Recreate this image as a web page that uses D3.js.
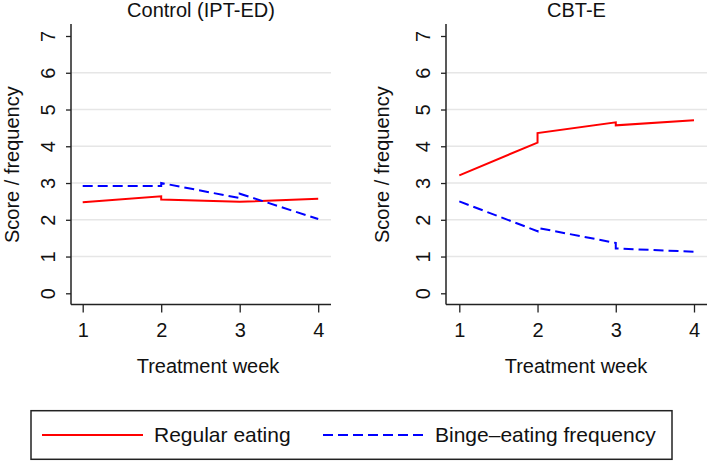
<!DOCTYPE html>
<html>
<head>
<meta charset="utf-8">
<script src="https://cdn.jsdelivr.net/npm/d3@7"></script>
<style>
  html, body { margin: 0; padding: 0; background: #fff; }
  svg { display: block; font-family: "Liberation Sans", Arial, sans-serif; }
</style>
</head>
<body>
<svg id="chart" width="709" height="462"></svg>
<script>
// ---- data ----
const panelTitles = ["Control (IPT-ED)", "CBT-E"];
const weeks = [1, 2, 2, 3, 3, 4];            // x positions (jumps at weeks 2 and 3)
const ctrlRegular = [2.48, 2.64, 2.55, 2.49, 2.49, 2.57];
const ctrlBinge   = [2.92, 2.92, 3.00, 2.59, 2.71, 2.02];
const cbtRegular  = [3.21, 4.10, 4.36, 4.65, 4.57, 4.71];
const cbtBinge    = [2.50, 1.69, 1.78, 1.37, 1.22, 1.13];
const xTicks = [1, 2, 3, 4];
const yTicks = [0, 1, 2, 3, 4, 5, 6, 7];
const gridTicks = [1, 2, 3, 4, 5, 6];
const seriesNames = ["Regular eating", "Binge\u2013eating frequency"];
const xTitle = "Treatment week";
const yTitle = "Score / frequency";

const svg = d3.select("#chart");
const RED = "#ff0000", BLUE = "#0000ff", AXIS = "#222";

const panels = [
  { title: panelTitles[0], axisX: 71, xr: [82.7, 318.2], right: 331, regular: ctrlRegular, binge: ctrlBinge, ytitleX: 19, xtitleX: 208 },
  { title: panelTitles[1], axisX: 446, xr: [459.3, 694], right: 707, regular: cbtRegular, binge: cbtBinge, ytitleX: 389, xtitleX: 576 }
];

const y = d3.scaleLinear().domain([0, 7]).range([293.3, 36]);
const axisTop = 24, axisBottom = 304.5;

panels.forEach(p => {
  const x = d3.scaleLinear().domain([1, 4]).range(p.xr);
  const g = svg.append("g");

  // gridlines
  g.selectAll("line.grid").data(gridTicks).join("line")
    .attr("x1", p.axisX).attr("x2", p.right)
    .attr("y1", d => y(d)).attr("y2", d => y(d))
    .attr("stroke", "#e6e6e6").attr("stroke-width", 1.5);

  // y axis
  const ya = g.append("g").attr("transform", `translate(${p.axisX},0)`)
    .call(d3.axisLeft(y).tickValues(yTicks).tickSize(5).tickSizeOuter(0).tickFormat(d3.format("d")));
  ya.select(".domain").remove();
  ya.selectAll(".tick line").attr("stroke", AXIS).attr("stroke-width", 1.3);
  ya.selectAll(".tick text")
    .attr("x", null).attr("dy", null)
    .attr("transform", "translate(-16,0) rotate(-90)")
    .attr("text-anchor", "middle")
    .attr("font-size", 20).attr("font-family", "Liberation Sans, Arial, sans-serif")
    .attr("fill", "#111");
  g.append("line").attr("x1", p.axisX).attr("x2", p.axisX)
    .attr("y1", axisTop).attr("y2", axisBottom)
    .attr("stroke", AXIS).attr("stroke-width", 1.5);

  // x axis
  const xa = g.append("g").attr("transform", `translate(0,${axisBottom})`)
    .call(d3.axisBottom(x).tickValues(xTicks).tickSize(8).tickSizeOuter(0).tickFormat(d3.format("d")));
  xa.select(".domain").remove();
  xa.selectAll(".tick line").attr("stroke", AXIS).attr("stroke-width", 1.3);
  xa.selectAll(".tick text")
    .attr("y", 32.5).attr("dy", null)
    .attr("font-size", 20).attr("font-family", "Liberation Sans, Arial, sans-serif")
    .attr("fill", "#111");
  g.append("line").attr("x1", p.axisX).attr("x2", p.right)
    .attr("y1", axisBottom).attr("y2", axisBottom)
    .attr("stroke", AXIS).attr("stroke-width", 1.5);

  // titles
  g.append("text").attr("x", (p.axisX + p.right) / 2).attr("y", 17)
    .attr("text-anchor", "middle").attr("font-size", 20).attr("fill", "#111").text(p.title);
  g.append("text").attr("x", p.xtitleX).attr("y", 372.7)
    .attr("text-anchor", "middle").attr("font-size", 20).attr("fill", "#111").text(xTitle);
  g.append("text").attr("transform", `translate(${p.ytitleX},${y(3.5)}) rotate(-90)`)
    .attr("text-anchor", "middle").attr("font-size", 20).attr("fill", "#111").text(yTitle);

  // lines
  const line = d3.line().x((d, i) => x(weeks[i])).y(d => y(d));
  g.append("path").datum(p.regular).attr("d", line)
    .attr("fill", "none").attr("stroke", RED).attr("stroke-width", 2);
  g.append("path").datum(p.binge).attr("d", line)
    .attr("fill", "none").attr("stroke", BLUE).attr("stroke-width", 2)
    .attr("stroke-dasharray", "10,5");
});

// legend
const lg = svg.append("g");
lg.append("rect").attr("x", 31).attr("y", 410.7).attr("width", 641).attr("height", 48.6)
  .attr("fill", "#fff").attr("stroke", AXIS).attr("stroke-width", 1.5);
lg.append("line").attr("x1", 42).attr("x2", 143).attr("y1", 435).attr("y2", 435)
  .attr("stroke", RED).attr("stroke-width", 2);
lg.append("text").attr("x", 154).attr("y", 441.7).attr("font-size", 21).attr("fill", "#111").text(seriesNames[0]);
lg.append("line").attr("x1", 323).attr("x2", 423).attr("y1", 435).attr("y2", 435)
  .attr("stroke", BLUE).attr("stroke-width", 2).attr("stroke-dasharray", "10,5");
lg.append("text").attr("x", 435).attr("y", 441.7).attr("font-size", 21).attr("fill", "#111").text(seriesNames[1]);
</script>
</body>
</html>
